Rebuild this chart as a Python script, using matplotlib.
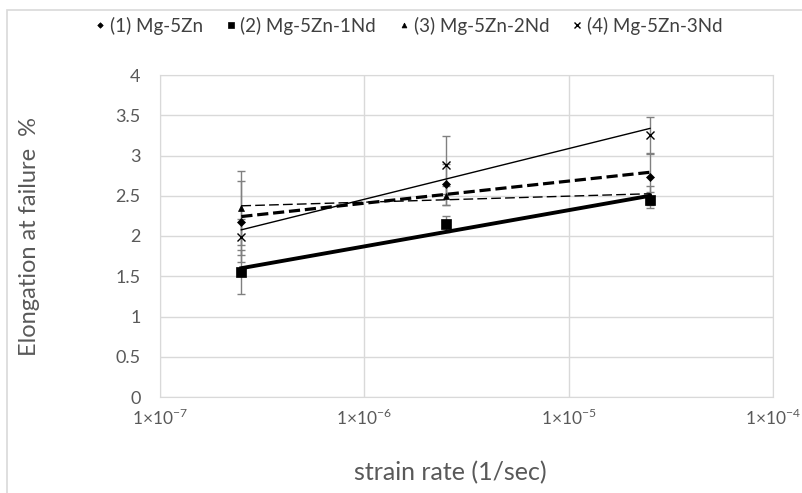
import numpy as np
import matplotlib
matplotlib.use("Agg")
import matplotlib.pyplot as plt
from matplotlib.patches import Rectangle

plt.rcParams['font.family'] = ['Lato', 'DejaVu Sans']
plt.rcParams['mathtext.fontset'] = 'custom'
plt.rcParams['mathtext.rm'] = 'Lato'

strain_rate = [2.5e-7, 2.5e-6, 2.5e-5]
labels = ["(1) Mg-5Zn", "(2) Mg-5Zn-1Nd", "(3) Mg-5Zn-2Nd", "(4) Mg-5Zn-3Nd"]
elong_1 = [2.18, 2.64, 2.73]
elong_2 = [1.55, 2.15, 2.45]
elong_3 = [2.35, 2.50, 2.50]
elong_4 = [1.99, 2.88, 3.25]
err_1 = [0.50, 0.26, 0.30]
err_2 = [0.27, 0.10, 0.10]
err_3 = [0.46, 0.12, 0.12]
err_4 = [0.22, 0.36, 0.23]
y_ticks = [0, 0.5, 1, 1.5, 2, 2.5, 3, 3.5, 4]
x_exps = [-7, -6, -5, -4]

series = [elong_1, elong_2, elong_3, elong_4]
errors = [err_1, err_2, err_3, err_4]
markers = ['D', 's', '^', 'x']
msizes = [4, 7, 5, 6]
trend_styles = [dict(lw=2.3, ls=(0, (3.5, 1.5))), dict(lw=2.8, ls='-'),
                dict(lw=1.0, ls=(0, (7, 3))), dict(lw=1.0, ls='-')]

fig = plt.figure(figsize=(8.03, 4.93), dpi=100)
fig.patches.append(Rectangle((7/803, -0.1), 1.2, 1 - 10/493 + 0.1, transform=fig.transFigure,
                             fill=False, edgecolor='#d9d9d9', lw=1.2))
ax = fig.add_axes([160/803, 1 - 397/493, 613/803, 322/493])
ax.set_xscale('log')
ax.set_xlim(1e-7, 1e-4)
ax.set_ylim(0, 4)

xs = np.array(strain_rate)
for ys, es, m, ms, st, lab in zip(series, errors, markers, msizes, trend_styles, labels):
    ax.errorbar(xs, ys, yerr=es, fmt='none', ecolor='#808080', elinewidth=1.0,
                capsize=3, capthick=1.0, zorder=2)
    coef = np.polyfit(np.log10(xs), ys, 1)
    xl = np.array([xs.min(), xs.max()])
    ax.plot(xl, np.polyval(coef, np.log10(xl)), color='black', zorder=3, **st)
    ax.plot(xs, ys, linestyle='none', marker=m, markersize=ms, color='black',
            markeredgewidth=1.0 if m == 'x' else 0.5, label=lab, zorder=4)

ax.set_yticks(y_ticks)
ax.set_yticklabels([f"{v:g}" for v in y_ticks])
ax.set_xticks([10.0 ** e for e in x_exps])
ax.set_xticklabels([f"1×10$^{{{e}}}$" for e in x_exps])
ax.minorticks_off()
ax.tick_params(axis='y', length=0, labelsize=13, colors='#595959', pad=14)
ax.tick_params(axis='x', length=0, labelsize=12.5, colors='#595959', pad=8)
ax.grid(True, color='#d9d9d9', lw=1.0)
ax.set_axisbelow(True)
for sp in ax.spines.values():
    sp.set_color('#d9d9d9')

ax.set_ylabel("Elongation at failure  %", fontsize=17, color='#595959')
ax.yaxis.set_label_coords(-0.196, 0.5)
ax.set_xlabel("strain rate (1/sec)", fontsize=18, color='#595959')
ax.xaxis.set_label_coords(0.473, -0.20)

fig.legend(loc='upper center', bbox_to_anchor=(0.507, 1.0), ncol=4, frameon=False,
           fontsize=13.5, handletextpad=0.05, columnspacing=1.05, handlelength=0.9,
           labelcolor='#404040', markerscale=0.7)

fig.savefig("out.png", dpi=100)
